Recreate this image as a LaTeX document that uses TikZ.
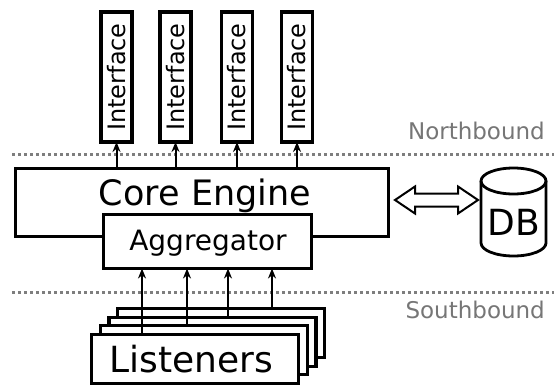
\documentclass[tikz,border=0pt]{standalone}
\usepackage{fontspec}
\setmainfont{DejaVu Sans}
\usetikzlibrary{arrows.meta,calc}
\definecolor{sepgray}{HTML}{7E7E7E}
\definecolor{lblgray}{HTML}{767676}
\begin{document}
\begin{tikzpicture}[x=1pt,y=-1pt,
  box/.style={draw, line width=3.2pt, fill=white, inner sep=0pt, outer sep=0pt},
  arr/.style={line width=2pt, -{Stealth[length=10pt,width=8pt]}},
  sepline/.style={sepgray, line width=3pt, dash pattern=on 3pt off 3pt},
  lbl/.style={text=lblgray, font=\fontsize{23}{26}\selectfont, inner sep=0pt},
  txt/.style={inner sep=0pt, anchor=base}
]
\useasboundingbox (0,0) rectangle (554,386);

% separators
\coordinate (n0) at (12,154);
\coordinate (n1) at (554,154);
\coordinate (s0) at (12,292);
\coordinate (s1) at (554,292);
\draw[sepline] (n0) -- (n1);
\draw[sepline] (s0) -- (s1);
\node[lbl, anchor=base east] (north) at (545,139) {Northbound};
\node[lbl, anchor=base east] (south) at (545,318) {Southbound};

% core engine and aggregator
\node[box, minimum width=373pt, minimum height=68pt] (core) at (202,202.5) {};
\node[txt, font=\fontsize{35}{40}\selectfont] (coretxt) at (205,205) {Core Engine};
\node[box, minimum width=208pt, minimum height=54pt] (agg) at (207.5,241.5) {};
\node[txt, font=\fontsize{28}{32}\selectfont] (aggtxt) at (208,250) {Aggregator};

% interfaces
\foreach \n/\x in {1/116.5,2/175.5,3/237,4/297}{
  \node[box, minimum width=31pt, minimum height=130pt] (i\n) at (\x,77) {};
  \node[rotate=90, inner sep=0pt, font=\fontsize{24}{28}\selectfont] (it\n) at (i\n) {Interface};
  \draw[arr] (core.north -| i\n) -- (i\n.south);
}

% listeners stack
\node[box, minimum width=207pt, minimum height=49pt] (l4) at (221.1,332.9) {};
\node[box, minimum width=207pt, minimum height=49pt] (l3) at (212.4,341.6) {};
\node[box, minimum width=207pt, minimum height=49pt] (l2) at (203.7,350.3) {};
\node[box, minimum width=207pt, minimum height=49pt] (l1) at (195,359) {};
\node[txt, font=\fontsize{36}{40}\selectfont] (ltxt) at (191,372) {Listeners};

\coordinate (a1) at (142,0);
\coordinate (a2) at (187,0);
\coordinate (a3) at (228,0);
\coordinate (a4) at (272,0);
\draw[arr] (l1.north -| a1) -- (agg.south -| a1);
\draw[arr] (l2.north -| a2) -- (agg.south -| a2);
\draw[arr] (l3.north -| a3) -- (agg.south -| a3);
\draw[arr] (l4.north -| a4) -- (agg.south -| a4);

% database cylinder
\coordinate (dbtop) at (513.5,181);
\draw[line width=2.8pt, fill=white] (481,181) -- (481,243)
   arc[start angle=180, end angle=0, x radius=32.5, y radius=13] -- (546,181);
\draw[line width=2.8pt] (dbtop) ellipse [x radius=32.5, y radius=13];
\node[txt, font=\fontsize{36}{40}\selectfont] (db) at (513.5,235) {DB};

% double arrow
\coordinate (dL) at (395,200);
\coordinate (dR) at (478,200);
\draw[line width=2pt, fill=white, line join=miter]
  (dL) -- ++(20,-13.5) -- ++(0,7) -- ++(43,0) -- ++(0,-7) -- (dR)
  -- ++(-20,13.5) -- ++(0,-7) -- ++(-43,0) -- ++(0,7) -- cycle;
\end{tikzpicture}
\end{document}
